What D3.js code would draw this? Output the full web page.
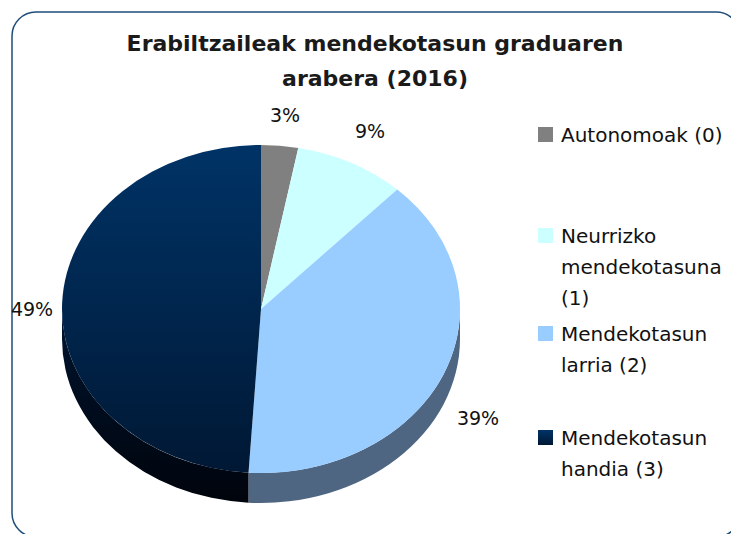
<!DOCTYPE html>
<html>
<head>
<meta charset="utf-8">
<script src="https://cdn.jsdelivr.net/npm/d3@7"></script>
<style>
  body { margin: 0; background: #fff; }
  svg { display: block; font-family: "DejaVu Sans", Tahoma, sans-serif; }
</style>
</head>
<body>
<div id="chart"></div>
<script>
var categories = ["Autonomoak (0)", "Neurrizko mendekotasuna (1)", "Mendekotasun larria (2)", "Mendekotasun handia (3)"];
var legendLines = [["Autonomoak (0)"], ["Neurrizko", "mendekotasuna", "(1)"], ["Mendekotasun", "larria (2)"], ["Mendekotasun", "handia (3)"]];
var values = [3, 9, 39, 49];
var percentLabels = ["3%", "9%", "39%", "49%"];
var titleLines = ["Erabiltzaileak mendekotasun graduaren", "arabera (2016)"];

var width = 731, height = 534;
var cx = 261, cy = 309, rx = 199, ry = 164, depth = 30;

var topFill = ["#808080", "#ccffff", "#99ccff", "url(#navyTop)"];
var sideFill = ["#404040", "#668080", "#4f6682", "url(#navySide)"];

var svg = d3.select("#chart").append("svg")
    .attr("width", width)
    .attr("height", height);

var defs = svg.append("defs");
var g1 = defs.append("linearGradient").attr("id", "navyTop")
    .attr("x1", 0).attr("y1", 0).attr("x2", 0).attr("y2", 1);
g1.append("stop").attr("offset", "0%").attr("stop-color", "#003366");
g1.append("stop").attr("offset", "100%").attr("stop-color", "#001834");
var g2 = defs.append("linearGradient").attr("id", "navySide")
    .attr("x1", 0).attr("y1", 0).attr("x2", 0).attr("y2", 1);
g2.append("stop").attr("offset", "0%").attr("stop-color", "#001530");
g2.append("stop").attr("offset", "100%").attr("stop-color", "#00040c");

// frame
svg.append("rect")
    .attr("x", 12).attr("y", 12)
    .attr("width", 728).attr("height", 525)
    .attr("rx", 24).attr("ry", 24)
    .attr("fill", "none")
    .attr("stroke", "#1f4e7a")
    .attr("stroke-width", 1.5);

svg.append("g").selectAll("text")
    .data(titleLines)
    .join("text")
    .attr("x", 375)
    .attr("y", function(d, i) { return 51 + i * 35; })
    .attr("text-anchor", "middle")
    .attr("font-size", 22)
    .attr("font-weight", "bold")
    .attr("fill", "#1a1a1a")
    .text(function(d) { return d; });

var pie = d3.pie().sort(null).startAngle(0).endAngle(2 * Math.PI);
var arcs = pie(values);

function px(a) { return cx + rx * Math.sin(a); }
function py(a) { return cy - ry * Math.cos(a); }

function topPath(d) {
    var large = (d.endAngle - d.startAngle) > Math.PI ? 1 : 0;
    return "M" + cx + "," + cy +
        "L" + px(d.startAngle) + "," + py(d.startAngle) +
        "A" + rx + "," + ry + " 0 " + large + " 1 " + px(d.endAngle) + "," + py(d.endAngle) + "Z";
}

function sidePath(d) {
    var a0 = Math.max(d.startAngle, Math.PI / 2), a1 = Math.min(d.endAngle, 3 * Math.PI / 2);
    if (a1 <= a0) return null;
    return "M" + px(a0) + "," + py(a0) +
        "A" + rx + "," + ry + " 0 0 1 " + px(a1) + "," + py(a1) +
        "L" + px(a1) + "," + (py(a1) + depth) +
        "A" + rx + "," + ry + " 0 0 0 " + px(a0) + "," + (py(a0) + depth) + "Z";
}

var pieG = svg.append("g");
pieG.selectAll("path.side")
    .data(arcs.filter(function(d) { return sidePath(d); }))
    .join("path")
    .attr("class", "side")
    .attr("d", sidePath)
    .attr("fill", function(d) { return sideFill[d.index]; });

pieG.selectAll("path.top")
    .data(arcs)
    .join("path")
    .attr("class", "top")
    .attr("d", topPath)
    .attr("fill", function(d) { return topFill[d.index]; });

// percentage labels
var labelPos = [[285, 122], [370, 138], [478, 425], [32, 316]];
svg.append("g").selectAll("text")
    .data(arcs)
    .join("text")
    .attr("x", function(d) { return labelPos[d.index][0]; })
    .attr("y", function(d) { return labelPos[d.index][1]; })
    .attr("text-anchor", "middle")
    .attr("font-size", 19)
    .attr("fill", "#111")
    .text(function(d) { return percentLabels[d.index]; });

// legend
var legendY = [127, 228, 326, 430];
var legend = svg.append("g").selectAll("g")
    .data(categories)
    .join("g")
    .attr("transform", function(d, i) { return "translate(538," + legendY[i] + ")"; });

legend.append("rect")
    .attr("width", 15).attr("height", 15)
    .attr("fill", function(d, i) { return topFill[i]; });

legend.append("text")
    .attr("font-size", 20)
    .attr("fill", "#111")
    .selectAll("tspan")
    .data(function(d, i) { return legendLines[i]; })
    .join("tspan")
    .attr("x", 23)
    .attr("y", function(d, j) { return 15 + j * 31; })
    .text(function(d) { return d; });
</script>
</body>
</html>
